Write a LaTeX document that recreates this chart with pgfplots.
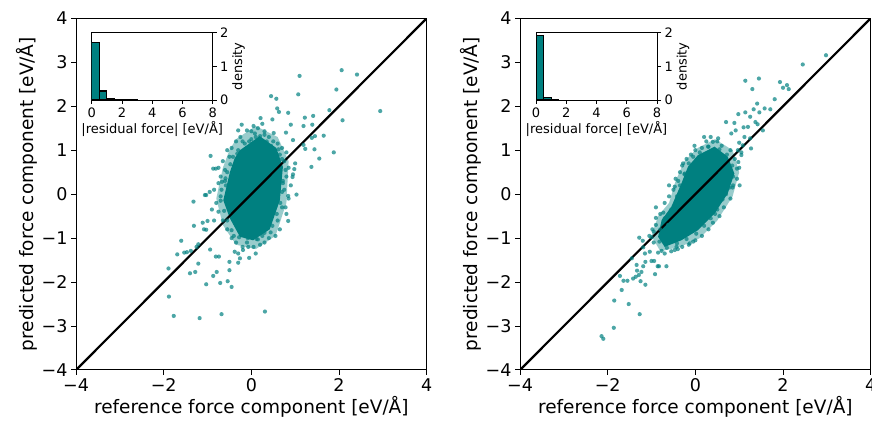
\documentclass[border=0pt]{standalone}
\usepackage{pgfplots}
\pgfplotsset{compat=1.18}
\usepackage{fontspec}
\setmainfont{DejaVu Sans}
\definecolor{tealc}{RGB}{0,128,128}

% outlier / halo points, left panel
\newcommand{\leftpts}{
(1.10,2.69)(2.06,2.82)(2.41,2.72)(2.94,1.89)(1.94,2.38)(1.07,2.27)(0.45,2.23)(0.57,2.17)(0.59,1.95)(0.63,1.87)
(0.84,1.85)(1.78,1.91)(2.08,1.68)(1.22,1.74)(1.41,1.78)(1.39,1.58)(1.19,1.55)(0.90,1.58)(0.48,1.70)(0.21,1.73)
(-0.22,1.58)(0.00,1.43)(0.08,1.38)(0.30,1.43)(0.51,1.39)(0.79,1.40)(0.95,1.23)(1.38,1.28)(1.45,1.32)(1.65,1.33)
(1.19,1.12)(1.23,1.03)(1.44,1.02)(1.88,0.95)(1.55,0.81)(1.37,0.62)(0.98,0.57)(0.94,0.39)(-0.93,0.87)(-0.87,0.58)
(-0.81,0.58)(-0.37,0.62)(-0.20,1.20)(-0.67,0.28)(-0.59,0.36)(-1.06,-0.02)(-0.32,0.92)
(-1.03,-0.02)(-1.32,-0.17)(-1.31,-0.72)(-1.11,-0.65)(-1.00,-0.61)(-1.08,-0.80)(-1.03,-0.81)(-1.60,-1.06)
(-1.53,-1.33)(-1.47,-1.32)(-1.38,-1.29)(-1.69,-1.37)(-1.21,-1.14)(-1.25,-1.20)(-1.21,-1.58)(-1.28,-1.77)(-1.40,-1.80)
(-1.89,-1.69)(-0.94,-1.26)(-0.81,-1.42)(-0.74,-1.42)(-0.50,-1.54)(-0.30,-1.56)(-0.50,-1.73)(-0.79,-1.77)(-0.87,-1.86)
(-0.54,-1.98)(-0.71,-2.02)(-1.03,-2.05)(-0.45,-2.11)(-1.88,-2.33)(-1.77,-2.77)(-1.18,-2.82)(-0.68,-2.73)(0.31,-2.67)
(0.84,-0.61)(0.44,-0.87)(1.03,-0.01)(0.84,-0.04)(0.15,-1.03)(-0.07,-1.20)(-0.19,-1.27)(-0.26,-1.46)(-0.38,-1.31)
(-0.45,1.05)(-0.35,1.2)(-0.25,1.3)(-0.1,1.45)(0.05,1.55)(0.15,1.5)(0.3,1.35)(0.4,1.3)(0.5,1.2)(0.6,1.15)
(-0.3,1.45)(0.25,1.6)(0.1,1.3)(-0.05,1.2)(0.35,1.15)(0.7,1.05)(0.8,0.95)(0.65,0.9)
(0.75,0.75)(0.85,0.6)(0.8,0.4)(0.9,0.2)(0.75,0.1)(0.85,-0.1)(0.7,-0.3)(0.8,-0.45)(0.6,-0.6)(0.65,-0.8)
(0.55,-0.95)(0.95,0.45)(1.0,0.7)(0.72,0.25)
(0.4,-1.0)(0.3,-1.1)(0.2,-1.15)(0.05,-1.2)(-0.1,-1.1)(-0.2,-1.2)(-0.35,-1.1)(-0.45,-1.0)(0.1,-1.35)(-0.3,-1.35)
(0.25,-0.95)(-0.05,-1.45)
(-0.55,-0.8)(-0.65,-0.6)(-0.75,-0.4)(-0.8,-0.2)(-0.7,-0.05)(-0.85,0.1)(-0.75,0.25)(-0.7,0.4)(-0.6,0.55)(-0.65,0.75)
(-0.5,0.85)(-0.9,-0.35)(-0.95,0.05)(-0.85,-0.6)(-0.55,1.0)(-0.75,0.6)
(-0.3,1.0)(-0.15,1.15)(0.0,1.25)(0.2,1.32)(0.45,1.1)(0.62,1.02)(0.7,0.8)(0.78,0.55)(0.72,0.3)(0.7,0.05)
(0.66,-0.2)(0.58,-0.45)(0.48,-0.72)(0.3,-0.88)(0.12,-1.02)(-0.08,-1.0)(-0.28,-0.98)(-0.45,-0.82)(-0.55,-0.6)(-0.62,-0.38)
(-0.7,-0.15)(-0.68,0.1)(-0.6,0.3)(-0.55,0.5)(-0.48,0.68)(-0.42,0.85)(-0.58,0.2)(0.78,-0.3)(-0.4,-0.95)(0.35,1.2)
}
\newcommand{\rightpts}{
(2.98,3.16)(2.45,2.95)(1.14,2.58)(1.45,2.63)(1.30,2.39)(1.93,2.55)(2.00,2.42)(2.09,2.48)(2.13,2.39)(1.81,2.16)
(1.41,2.06)(1.58,1.95)(1.71,1.93)(1.33,1.93)(1.46,1.86)(1.14,1.86)(0.98,1.82)(1.25,1.76)(1.37,1.64)(1.42,1.59)
(0.70,1.64)(0.89,1.62)(1.10,1.52)(1.20,1.53)(1.54,1.45)(0.92,1.45)(0.82,1.38)(1.12,1.30)(1.25,1.27)(1.00,1.17)
(1.08,1.11)(1.27,1.04)(0.97,1.00)(1.05,0.89)(0.98,0.73)(0.95,0.58)(0.86,0.20)(1.01,0.20)(0.74,0.34)(-0.02,1.10)
(0.52,1.27)(0.40,1.19)(0.29,1.08)(-0.39,0.30)(-0.47,0.17)(-0.24,0.47)(-0.28,0.70)
(-2.14,-3.23)(-2.10,-3.29)(-1.86,-3.04)(-1.27,-2.73)(-1.52,-2.50)(-1.85,-2.42)(-1.68,-2.18)(-1.14,-2.06)
(-1.64,-1.97)(-1.55,-1.97)(-1.42,-1.92)(-1.36,-1.88)(-1.25,-1.98)(-1.72,-1.86)(-1.29,-1.84)(-1.23,-1.77)(-1.33,-1.74)
(-0.92,-1.82)(-1.34,-1.61)(-1.19,-1.64)(-1.14,-1.54)(-1.45,-1.46)(-1.00,-1.52)(-0.94,-1.52)(-0.86,-1.64)(-0.83,-1.64)
(-0.66,-1.64)(-1.15,-1.35)(-1.04,-1.31)(-1.19,-1.21)(-1.28,-0.99)(-1.20,-1.06)(-1.00,-0.98)(-0.98,-0.80)(-0.85,-1.33)
(-0.77,-1.29)(-0.90,-0.30)(-0.90,-0.54)(-0.73,-0.42)(-0.47,-1.27)(-0.43,-1.20)(-0.13,-1.12)(-0.05,-1.08)(0.52,-0.14)(0.67,0.05)
(0.0,1.0)(0.15,1.05)(0.25,1.2)(0.5,1.2)(0.6,1.1)(0.8,1.0)(0.9,0.8)(1.0,0.6)(0.95,0.35)(0.85,0.15)
(0.8,-0.1)(0.65,-0.3)(0.55,-0.5)(0.4,-0.65)(0.3,-0.8)(0.15,-0.95)(0.0,-1.05)(-0.15,-1.15)(-0.3,-1.2)(-0.55,-1.3)
(-0.7,-1.35)(-0.95,-1.1)(-0.95,-0.85)(-0.9,-0.7)(-0.8,-0.45)(-0.7,-0.2)(-0.6,-0.05)(-0.5,0.1)(-0.45,0.35)(-0.35,0.5)
(-0.3,0.65)(-0.2,0.8)(-0.1,0.9)(0.35,1.3)(1.05,0.95)(0.7,0.0)(-0.4,-1.25)(-1.05,-0.95)(-0.6,0.2)(0.2,1.3)
(0.1,0.95)(0.3,1.08)(0.55,1.02)(0.72,0.9)(0.84,0.65)(0.86,0.4)(0.78,0.15)(0.62,-0.12)(0.5,-0.35)(0.35,-0.55)
(0.2,-0.72)(0.02,-0.9)(-0.2,-1.02)(-0.42,-1.12)(-0.65,-1.22)(-0.82,-1.08)(-0.8,-0.8)(-0.7,-0.55)(-0.55,-0.35)(-0.42,-0.05)
(-0.35,0.2)(-0.25,0.45)(-0.15,0.7)(-0.05,0.85)(-0.62,-0.7)(0.45,-0.45)
}

\pgfplotsset{
  mainax/.style={
    scale only axis, width=350.7pt, height=351.7pt,
    xmin=-4, xmax=4, ymin=-4, ymax=4,
    xtick={-4,-2,0,2,4}, xticklabels={−4,−2,0,2,4},
    ytick={-4,-3,-2,-1,0,1,2,3,4}, yticklabels={−4,−3,−2,−1,0,1,2,3,4},
    tick align=outside, tick pos=left, major tick length=5pt,
    every tick/.style={black, line width=1pt},
    axis line style={line width=1pt},
    ticklabel style={font=\fontsize{17.5}{20}\selectfont},
    label style={font=\fontsize{18.5}{21}\selectfont},
    xlabel={reference force component [eV/Å]},
    ylabel={predicted force component [eV/Å]},
    xlabel style={yshift=2pt},
    ylabel style={yshift=-3pt},
    clip=true,
  },
  insetax/.style={
    scale only axis, width=121pt, height=67.3pt,
    xmin=0, xmax=8, ymin=0, ymax=2,
    xtick={0,2,4,6,8}, ytick={0,1,2},
    tick align=outside, major tick length=4pt,
    xtick pos=bottom, ytick pos=right, yticklabel pos=right,
    every tick/.style={black, line width=0.8pt},
    axis line style={line width=0.8pt},
    axis background/.style={fill=white},
    ticklabel style={font=\fontsize{13}{15}\selectfont},
    label style={font=\fontsize{13}{15}\selectfont},
    xlabel={|residual force| [eV/Å]},
    ylabel={density},
    xlabel style={yshift=3pt},
    ylabel style={yshift=3pt},
    /pgf/number format/assume math mode=true,
  },
  pts/.style={only marks, mark=*, mark size=2.1pt, mark options={fill=tealc, fill opacity=0.7, draw opacity=0}},
}

\begin{document}
\begin{tikzpicture}
\path[use as bounding box] (0,0) rectangle (872pt,425pt);

% ---------------- left panel
\begin{axis}[mainax, at={(76pt,55pt)}, anchor=south west]
\addplot[fill=tealc, fill opacity=0.4, draw=none] coordinates {
(-0.35,1.25)(0.1,1.55)(0.6,1.3)(0.85,0.75)(0.8,-0.2)(0.55,-0.95)(0.1,-1.25)(-0.35,-1.15)(-0.65,-0.7)(-0.8,-0.1)(-0.65,0.6)(-0.5,1.0)} -- cycle;
\addplot[fill=tealc, draw=none] coordinates {
(-0.26,1.0)(0.19,1.32)(0.57,1.05)(0.72,0.62)(0.65,-0.14)(0.42,-0.8)(0.04,-1.05)(-0.26,-0.97)(-0.49,-0.55)(-0.64,-0.14)(-0.49,0.5)(-0.38,0.82)} -- cycle;
\addplot[pts] coordinates {\leftpts};
\addplot[black, line width=2.2pt] coordinates {(-4,-4) (4,4)};
\end{axis}
\begin{axis}[insetax, at={(91.7pt,325pt)}, anchor=south west]
\addplot[ybar interval, fill=tealc, draw=black, line width=1.2pt] coordinates {
(0,1.71)(0.5,0.27)(1,0.03)(1.5,0.01)(2,0.006)(2.5,0.005)(3,0)};
\end{axis}

% ---------------- right panel
\begin{axis}[mainax, at={(520pt,55pt)}, anchor=south west]
\addplot[fill=tealc, fill opacity=0.4, draw=none] coordinates {
(0.05,1.05)(0.45,1.25)(0.85,1.0)(1.0,0.5)(0.85,-0.05)(0.5,-0.6)(0.1,-1.0)(-0.35,-1.2)(-0.8,-1.3)(-1.0,-0.95)(-0.85,-0.5)(-0.6,-0.2)(-0.45,0.3)(-0.25,0.75)} -- cycle;
\addplot[fill=tealc, draw=none] coordinates {
(0.06,0.89)(0.44,1.08)(0.74,0.85)(0.89,0.47)(0.74,0.02)(0.44,-0.44)(0.06,-0.82)(-0.32,-1.05)(-0.70,-1.20)(-0.85,-0.97)(-0.77,-0.59)(-0.55,-0.29)(-0.32,0.24)(-0.17,0.62)} -- cycle;
\addplot[pts] coordinates {\rightpts};
\addplot[black, line width=2.2pt] coordinates {(-4,-4) (4,4)};
\end{axis}
\begin{axis}[insetax, at={(536pt,325pt)}, anchor=south west]
\addplot[ybar interval, fill=tealc, draw=black, line width=1.2pt] coordinates {
(0,1.92)(0.5,0.08)(1,0.01)(1.5,0)};
\end{axis}
\end{tikzpicture}
\end{document}
